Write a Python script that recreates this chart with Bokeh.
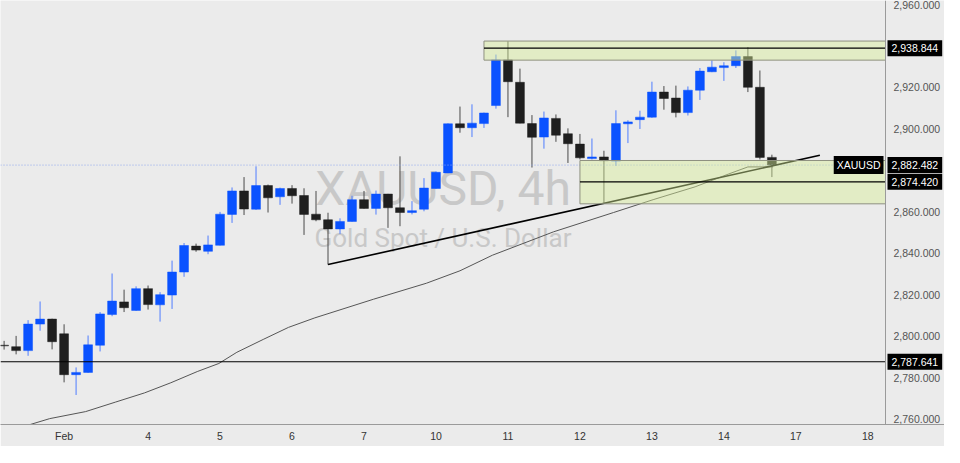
from bokeh.plotting import figure
from bokeh.models import (ColumnDataSource, Range1d, LinearAxis, FixedTicker,
                          NumeralTickFormatter, Label)
from bokeh.core.properties import value
from bokeh.embed import file_html
from bokeh.resources import INLINE

# ---- data (4h bars, XAUUSD) ----
opens = [2795.6, 2794.9, 2793.0, 2805.8, 2808.2, 2801.1, 2781.4, 2782.5, 2795.6, 2810.4,
         2816.5, 2812.4, 2822.9, 2815.1, 2819.8, 2830.9, 2843.4, 2840.9, 2843.8, 2858.7,
         2870.0, 2861.2, 2872.6, 2867.2, 2871.2, 2867.8, 2858.8, 2856.1, 2851.7, 2855.3,
         2865.8, 2861.6, 2868.5, 2861.9, 2859.6, 2861.2, 2871.2, 2878.7, 2902.4, 2900.5,
         2902.5, 2911.2, 2933.2, 2922.4, 2902.5, 2896.0, 2905.0, 2897.6, 2892.6, 2885.6,
         2886.4, 2884.4, 2902.4, 2904.4, 2905.6, 2917.7, 2914.8, 2907.8, 2918.6, 2927.5,
         2929.5, 2930.4, 2934.8, 2920.0, 2886.2]
highs = [2797.7, 2800.1, 2807.7, 2816.7, 2808.4, 2805.7, 2784.9, 2800.3, 2811.6, 2830.2,
         2822.4, 2824.0, 2824.4, 2821.2, 2836.4, 2844.9, 2844.6, 2848.5, 2859.9, 2871.7,
         2876.7, 2881.9, 2873.1, 2871.6, 2872.8, 2871.3, 2870.0, 2859.5, 2856.8, 2867.7,
         2870.0, 2870.2, 2868.6, 2886.7, 2865.1, 2876.2, 2879.5, 2902.6, 2910.7, 2911.8,
         2907.8, 2935.8, 2942.2, 2929.0, 2906.6, 2908.3, 2906.9, 2900.2, 2897.5, 2895.3,
         2889.4, 2908.9, 2904.1, 2908.7, 2922.7, 2920.6, 2920.8, 2920.4, 2929.3, 2933.0,
         2932.1, 2937.8, 2939.4, 2928.1, 2887.5]
lows = [2793.5, 2791.2, 2790.5, 2802.6, 2793.6, 2777.7, 2771.6, 2782.3, 2792.6, 2809.6,
        2811.6, 2812.2, 2812.8, 2807.0, 2813.1, 2828.6, 2840.7, 2839.5, 2843.7, 2854.6,
        2858.4, 2860.9, 2859.6, 2863.3, 2863.9, 2848.8, 2855.4, 2834.5, 2849.3, 2855.2,
        2861.5, 2858.6, 2852.2, 2853.0, 2858.7, 2860.2, 2871.1, 2878.6, 2898.1, 2896.0,
        2900.4, 2909.7, 2905.6, 2902.6, 2881.3, 2890.4, 2893.7, 2883.5, 2885.2, 2885.2,
        2864.3, 2882.1, 2893.1, 2899.9, 2905.3, 2909.2, 2905.5, 2906.4, 2913.9, 2927.3,
        2923.1, 2929.3, 2917.7, 2885.2, 2876.7]
closes = [2795.3, 2793.0, 2805.8, 2808.2, 2797.3, 2781.4, 2782.5, 2795.8, 2810.7, 2816.9,
          2813.7, 2822.9, 2815.2, 2820.0, 2830.9, 2843.7, 2841.5, 2844.0, 2858.8, 2870.0,
          2861.3, 2872.6, 2866.7, 2871.2, 2867.7, 2858.7, 2856.1, 2851.7, 2855.3, 2865.8,
          2861.6, 2868.5, 2861.9, 2859.6, 2860.5, 2871.4, 2879.0, 2902.4, 2900.5, 2902.7,
          2907.6, 2933.2, 2922.7, 2902.7, 2895.9, 2905.2, 2896.9, 2892.8, 2886.0, 2886.4,
          2884.6, 2902.5, 2903.3, 2905.6, 2917.7, 2914.6, 2907.8, 2918.6, 2927.8, 2929.7,
          2930.4, 2934.8, 2920.0, 2886.2, 2882.482]

# moving average (bar index, price)
ma_x = [0, 2.2, 3.8, 6.8, 9.3, 11.7, 13.9, 16.1, 17.9, 19.4, 21.6, 23.7, 25.9, 30.8,
        35.2, 38.0, 40.7, 45.8, 50.8, 54.1, 57.6, 60.4, 62.0, 64.1]
ma_y = [2754.0, 2757.4, 2760.2, 2763.6, 2768.2, 2772.6, 2777.5, 2782.9, 2786.8, 2792.2,
        2798.4, 2804.2, 2808.8, 2817.8, 2825.5, 2831.5, 2839.0, 2850.3, 2859.6, 2865.8,
        2872.0, 2878.2, 2881.6, 2881.6]

# time axis
tick_pos = [5, 12, 18, 24, 30, 36, 42, 48, 54, 60, 66, 72]
tick_labels = ["Feb", "4", "5", "6", "7", "10", "11", "12", "13", "14", "17", "18"]

# price axis ticks (2,880 and 2,940 hidden behind price tags)
price_ticks = [2760, 2780, 2800, 2820, 2840, 2860, 2900, 2920, 2960]

# drawn zones
zone_left = [40, 48]
zone_top = [2942.3, 2884.7]
zone_bottom = [2933.1, 2863.8]
zone_mid = [2938.844, 2874.420]

# trend line
trend_x = [27, 68]
trend_y = [2834.5, 2887.2]

# horizontal levels
level_line = 2787.641
last_price = 2882.482

tag_prices = [2938.844, 2882.482, 2874.420, 2787.641]
tag_texts = ["2,938.844", "2,882.482", "2,874.420", "2,787.641"]

BG = "#ebebeb"
BULL = "#0a52ff"
BEAR = "#1f1f1f"

FW, FH = 944, 424
X0, XC = -0.3, 73.47            # chart pane range (price scale sits right of XC)
X1 = X0 + (XC - X0) * 960 / 900  # include the price-scale strip
p = figure(frame_width=FW, frame_height=FH, output_backend="svg", toolbar_location=None,
           x_range=Range1d(X0, X1), y_range=Range1d(2757.37, 2961.86),
           x_axis_location=None, y_axis_location=None,
           min_border_left=0, min_border_top=0, min_border_right=0,
           min_border_bottom=22)
p.background_fill_color = BG
p.border_fill_color = BG
p.outline_line_color = None
p.grid.visible = False

# watermark
p.text(x=[(X0 + XC) / 2] * 2, y=[2871.2, 2847.1],
       text=["XAUUSD, 4h", "Gold Spot / U.S. Dollar"],
       text_font=value("Roboto"), text_font_size=["48px", "26px"],
       text_align="center", text_baseline="middle", text_color="#c8c8c8")

# moving average
p.line(ma_x, ma_y, line_color="#555555", line_width=1)

# candles
idx = list(range(len(opens)))
up = [c >= o for o, c in zip(opens, closes)]
src = ColumnDataSource(dict(
    x=idx, o=opens, h=highs, l=lows, c=closes,
    top=[max(o, c) for o, c in zip(opens, closes)],
    bot=[min(o, c) for o, c in zip(opens, closes)],
    body=[BULL if u else BEAR for u in up],
    wick=["#4f7dff" if u else "#4a4a4a" for u in up],
))
p.segment(x0="x", x1="x", y0="h", y1="l", line_color="wick", line_width=1, source=src)
p.vbar(x="x", width=0.74, top="top", bottom="bot", fill_color="body",
       line_color="body", line_width=0.5, source=src)

# horizontal levels across the chart pane
p.segment(x0=[X0], x1=[XC], y0=[level_line], y1=[level_line],
          line_color="black", line_width=1.2)
p.segment(x0=[X0], x1=[XC], y0=[last_price], y1=[last_price],
          line_color="#8fa6ec", line_width=1, line_dash="1 2")

# trend line
p.line(trend_x, trend_y, line_color="black", line_width=1.6)

# zones
p.quad(left=zone_left, right=[XC] * 2, top=zone_top, bottom=zone_bottom,
       fill_color="#d6ee96", fill_alpha=0.45, line_color="#8e9080", line_width=1)
p.segment(x0=zone_left, x1=[XC] * 2, y0=zone_mid, y1=zone_mid,
          line_color="black", line_width=1.2)

# axes
xax = LinearAxis(ticker=FixedTicker(ticks=tick_pos),
                 major_label_overrides={t: s for t, s in zip(tick_pos, tick_labels)})
xax.major_tick_out = 0
xax.major_tick_in = 0
xax.minor_tick_out = 0
xax.minor_tick_in = 0
xax.axis_line_color = "#9a9a9a"
xax.major_label_text_color = "#333333"
xax.major_label_text_font = "Liberation Sans"
xax.major_label_text_font_size = "10.5px"
xax.major_label_standoff = 5
p.add_layout(xax, "below")

yax = LinearAxis(ticker=FixedTicker(ticks=price_ticks),
                 formatter=NumeralTickFormatter(format="0,0.000"),
                 fixed_location=XC)
yax.major_tick_out = 0
yax.major_tick_in = 0
yax.minor_tick_out = 0
yax.minor_tick_in = 0
yax.axis_line_color = "#9a9a9a"
yax.major_label_text_color = "#555555"
yax.major_label_text_font = "Liberation Sans"
yax.major_label_text_font_size = "10.5px"
yax.major_label_standoff = 8
p.add_layout(yax, "right")

# price tags
for pr, tx in zip(tag_prices, tag_texts):
    p.add_layout(Label(x=XC, y=pr, x_offset=2, text=tx, text_align="left",
                       text_baseline="middle", text_color="white",
                       text_font="Liberation Sans", text_font_size="10.5px",
                       background_fill_color="black", padding=4))
p.add_layout(Label(x=XC, y=last_price, x_offset=-2, text="XAUUSD", text_align="right",
                   text_baseline="middle", text_color="white",
                   text_font="Liberation Sans", text_font_size="10.5px",
                   background_fill_color="black", padding=3))

open("out.html", "w").write(file_html(p, INLINE))
